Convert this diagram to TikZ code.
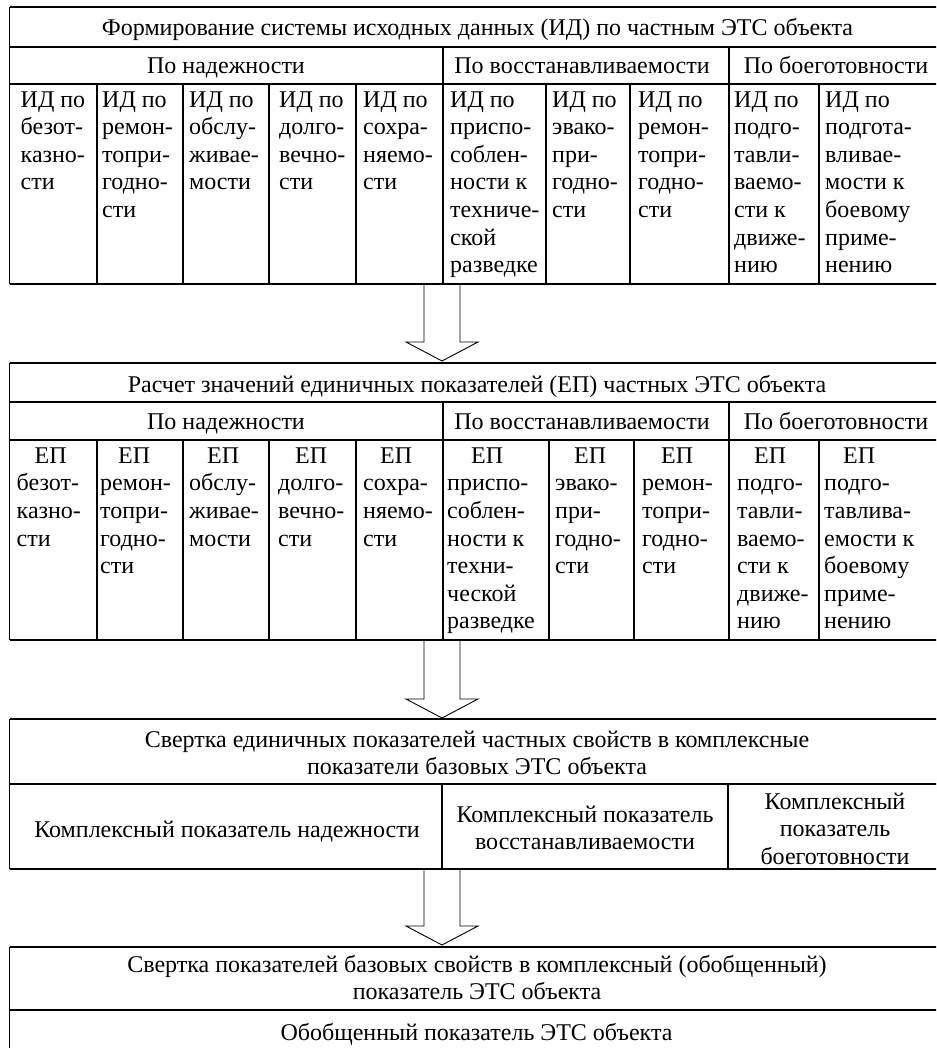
\documentclass[tikz,border=0pt]{standalone}
\usepackage{fontspec}
\setmainfont{Liberation Serif}
\newcommand\tf{\fontsize{24pt}{27.6pt}\selectfont}
\newcommand\fl{\rule{0pt}{17pt}}
\begin{document}
\begin{tikzpicture}[x=1pt,y=-1pt,
  tl/.style={line width=1.1pt},
  al/.style={line width=0.9pt, line join=miter},
  cell/.style={anchor=north west, inner sep=0pt, align=left, font=\tf},
  ctr/.style={anchor=base, inner sep=0pt, font=\tf},
  ctrm/.style={anchor=north, inner sep=0pt, align=center, font=\tf}]
\useasboundingbox (0,0) rectangle (936,1048);
\clip (0,0) rectangle (936,1048);
\fill[white] (0,0) rectangle (936,1048);

% ---------- table 1 ----------
\draw[tl] (9.5,7) -- (950,7);
\draw[tl] (9.5,47) -- (950,47);
\draw[tl] (9.5,84) -- (950,84);
\draw[tl] (9.5,284) -- (950,284);
\draw[tl] (9.5,7) -- (9.5,284);
\foreach \x in {443,729} \draw[tl] (\x,47) -- (\x,284);
\foreach \x in {97,183,269,356,546,630,819} \draw[tl] (\x,84) -- (\x,284);

\node[ctr] (t1) at (477.5,36) {Формирование системы исходных данных (ИД) по частным ЭТС объекта};
\node[ctr] (g11) at (226,73.5) {По надежности};
\node[ctr] (g12) at (582,73.5) {По восстанавливаемости};
\node[ctr] (g13) at (836,73.5) {По боеготовности};

\node[cell] (i1) at (20.5,90) {\fl ИД по\\безот-\\казно-\\сти};
\node[cell] (i2) at (102,90) {\fl ИД по\\ремон-\\топри-\\годно-\\сти};
\node[cell] (i3) at (189,90) {\fl ИД по\\обслу-\\живае-\\мости};
\node[cell] (i4) at (279,90) {\fl ИД по\\долго-\\вечно-\\сти};
\node[cell] (i5) at (363,90) {\fl ИД по\\сохра-\\няемо-\\сти};
\node[cell] (i6) at (450,90) {\fl ИД по\\приспо-\\соблен-\\ности к\\техниче-\\ской\\разведке};
\node[cell] (i7) at (552,90) {\fl ИД по\\эвако-\\при-\\годно-\\сти};
\node[cell] (i8) at (638,90) {\fl ИД по\\ремон-\\топри-\\годно-\\сти};
\node[cell] (i9) at (734,90) {\fl ИД по\\подго-\\тавли-\\ваемо-\\сти к\\движе-\\нию};
\node[cell] (i10) at (825,90) {\fl ИД по\\подгота-\\вливае-\\мости к\\боевому\\приме-\\нению};

% ---------- arrow 1 ----------
\coordinate (a1s) at (442,284);
\coordinate (a1h) at (442,342);
\coordinate (a1t) at (442,361);
\draw[al] ([xshift=-18pt]a1s) -- ([xshift=-18pt]a1h) -- ([xshift=-36pt]a1h) -- (a1t)
  -- ([xshift=36pt]a1h) -- ([xshift=18pt]a1h) -- ([xshift=18pt]a1s);

% ---------- table 2 ----------
\draw[tl] (9.5,363) -- (950,363);
\draw[tl] (9.5,402) -- (950,402);
\draw[tl] (9.5,440) -- (950,440);
\draw[tl] (9.5,640) -- (950,640);
\draw[tl] (9.5,363) -- (9.5,640);
\foreach \x in {443,729} \draw[tl] (\x,402) -- (\x,640);
\foreach \x in {97,183,269,356,549,634,819} \draw[tl] (\x,440) -- (\x,640);

\node[ctr] (t2) at (477,392) {Расчет значений единичных показателей (ЕП) частных ЭТС объекта};
\node[ctr] (g21) at (226,429) {По надежности};
\node[ctr] (g22) at (582,429) {По восстанавливаемости};
\node[ctr] (g23) at (836,429) {По боеготовности};

\node[cell] (e1) at (16.5,446) {\fl\hspace*{18pt}ЕП\\безот-\\казно-\\сти};
\node[cell] (e2) at (100,446) {\fl\hspace*{18pt}ЕП\\ремон-\\топри-\\годно-\\сти};
\node[cell] (e3) at (189,446) {\fl\hspace*{18pt}ЕП\\обслу-\\живае-\\мости};
\node[cell] (e4) at (278,446) {\fl\hspace*{17pt}ЕП\\долго-\\вечно-\\сти};
\node[cell] (e5) at (363,446) {\fl\hspace*{17pt}ЕП\\сохра-\\няемо-\\сти};
\node[cell] (e6) at (447,446) {\fl\hspace*{24pt}ЕП\\приспо-\\соблен-\\ности к\\техни-\\ческой\\разведке};
\node[cell] (e7) at (555,446) {\fl\hspace*{19pt}ЕП\\эвако-\\при-\\годно-\\сти};
\node[cell] (e8) at (642,446) {\fl\hspace*{19pt}ЕП\\ремон-\\топри-\\годно-\\сти};
\node[cell] (e9) at (737,446) {\fl\hspace*{17pt}ЕП\\подго-\\тавли-\\ваемо-\\сти к\\движе-\\нию};
\node[cell] (e10) at (824,446) {\fl\hspace*{19pt}ЕП\\подго-\\тавлива-\\емости к\\боевому\\приме-\\нению};

% ---------- arrow 2 ----------
\coordinate (a2s) at (442,640);
\coordinate (a2h) at (442,699);
\coordinate (a2t) at (442,718);
\draw[al] ([xshift=-18pt]a2s) -- ([xshift=-18pt]a2h) -- ([xshift=-36pt]a2h) -- (a2t)
  -- ([xshift=36pt]a2h) -- ([xshift=18pt]a2h) -- ([xshift=18pt]a2s);

% ---------- table 3 ----------
\draw[tl] (9.5,719) -- (950,719);
\draw[tl] (9.5,784) -- (950,784);
\draw[tl] (9.5,869) -- (950,869);
\draw[tl] (9.5,719) -- (9.5,869);
\foreach \x in {442,728} \draw[tl] (\x,784) -- (\x,869);

\node[ctrm] (t3) at (477,730) {\fl Свертка единичных показателей частных свойств в комплексные\\показатели базовых ЭТС объекта};
\node[ctr] (k1) at (227,837) {Комплексный показатель надежности};
\node[ctrm] (k2) at (585,805) {\fl Комплексный показатель\\восстанавливаемости};
\node[ctrm] (k3) at (835,792) {\fl Комплексный\\показатель\\боеготовности};

% ---------- arrow 3 ----------
\coordinate (a3s) at (442,869);
\coordinate (a3h) at (442,926);
\coordinate (a3t) at (442,945);
\draw[al] ([xshift=-18pt]a3s) -- ([xshift=-18pt]a3h) -- ([xshift=-36pt]a3h) -- (a3t)
  -- ([xshift=36pt]a3h) -- ([xshift=18pt]a3h) -- ([xshift=18pt]a3s);

% ---------- table 4 ----------
\draw[tl] (9.5,947) -- (950,947);
\draw[tl] (9.5,1010) -- (950,1010);
\draw[tl] (9.5,947) -- (9.5,1060);

\node[ctrm] (t4) at (477,955) {\fl Свертка показателей базовых свойств в комплексный (обобщенный)\\показатель ЭТС объекта};
\node[ctr] (o1) at (476.5,1040) {Обобщенный показатель ЭТС объекта};
\end{tikzpicture}
\end{document}
